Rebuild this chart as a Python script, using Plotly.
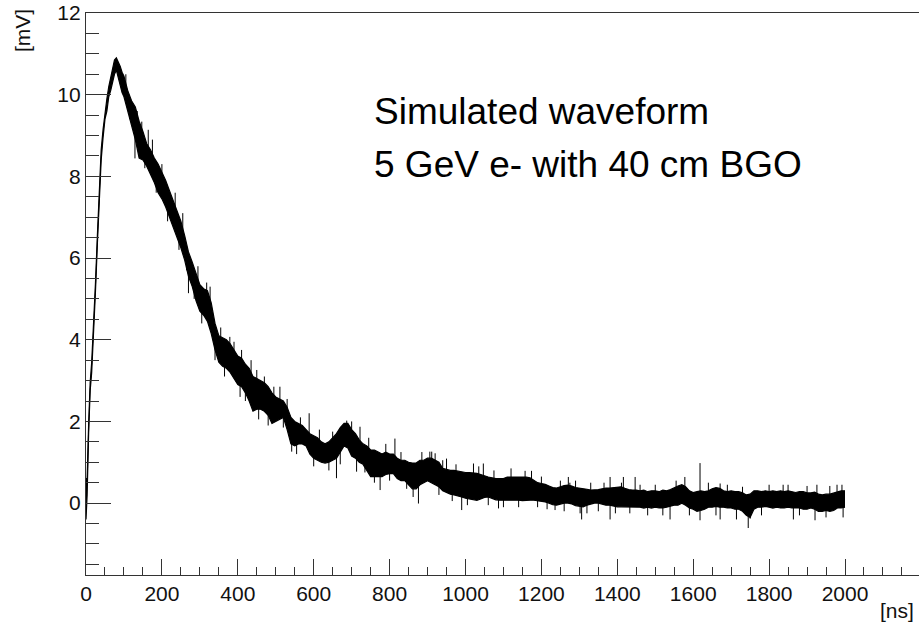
import numpy as np
import plotly.graph_objects as go

# ---- data (time in ns, amplitude in mV) ----
t_env = [0, 3, 7, 11, 15, 20, 25, 30, 35, 40, 45, 50, 55, 60, 65, 70, 75, 80, 85, 90, 95,
         100, 110, 120, 130, 140, 150, 160, 170, 180, 190, 200, 210, 220, 230, 240, 250,
         260, 270, 280, 290, 300, 310, 320, 330, 340, 350, 360, 370, 380, 390, 400, 410,
         420, 430, 440, 450, 460, 470, 480, 490, 500, 510, 520, 530, 540, 550, 560, 570,
         580, 590, 600, 610, 620, 630, 640, 650, 660, 670, 680, 690, 700, 710, 720, 730,
         740, 750, 760, 770, 780, 790, 800, 810, 820, 830, 840, 850, 860, 870, 880, 890,
         900, 910, 920, 930, 940, 950, 960, 970, 980, 990, 1000, 1010, 1020, 1030, 1040,
         1050, 1060, 1070, 1080, 1090, 1100, 1110, 1120, 1130, 1140, 1150, 1160, 1170,
         1180, 1190, 1200, 1210, 1220, 1230, 1240, 1250, 1260, 1270, 1280, 1290, 1300,
         1310, 1320, 1330, 1340, 1350, 1360, 1370, 1380, 1390, 1400, 1410, 1420, 1430,
         1440, 1450, 1460, 1470, 1480, 1490, 1500, 1510, 1520, 1530, 1540, 1550, 1560,
         1570, 1580, 1590, 1600, 1610, 1620, 1630, 1640, 1650, 1660, 1670, 1680, 1690,
         1700, 1710, 1720, 1730, 1740, 1750, 1760, 1770, 1780, 1790, 1800, 1810, 1820,
         1830, 1840, 1850, 1860, 1870, 1880, 1890, 1900, 1910, 1920, 1930, 1940, 1950,
         1960, 1970, 1980, 1990, 2000]

upper_mV = [0.6, 0.6, 1.95, 2.95, 3.45, 4.3, 5.4, 6.55, 7.7, 8.65, 9.15, 9.6, 9.9, 10.2,
            10.4, 10.6, 10.85, 10.9, 10.8, 10.7, 10.55,
            10.45, 10.1, 9.85, 9.7, 9.35, 9.1, 8.8, 8.65, 8.45, 8.3, 8.1, 7.9, 7.65, 7.4,
            7.1, 6.9, 6.55, 6.15, 5.9, 5.6, 5.35, 5.25, 5.2, 4.9, 4.4, 4.1, 4.05, 4.0, 3.9,
            3.75, 3.6, 3.55, 3.4, 3.3, 3.1, 3.05, 3.0, 2.95, 2.85, 2.7, 2.6, 2.55, 2.5,
            2.35, 2.1, 2.0, 1.95, 1.9, 1.8, 1.7, 1.65, 1.6, 1.5, 1.45, 1.5, 1.6, 1.7, 1.85,
            1.95, 1.95, 1.8, 1.7, 1.55, 1.45, 1.4, 1.3, 1.3, 1.25, 1.2, 1.25, 1.2, 1.2, 1.1,
            1.05, 1.05, 1.0, 0.98, 0.98, 1.05, 1.05, 1.1, 1.1, 1.05, 1.0, 0.85, 0.82, 0.8,
            0.8, 0.78, 0.76, 0.75, 0.75, 0.74, 0.73, 0.7, 0.66, 0.64, 0.62, 0.6, 0.6, 0.6,
            0.64, 0.64, 0.64, 0.64, 0.65, 0.64, 0.62, 0.55, 0.5, 0.48, 0.46, 0.42, 0.38,
            0.37, 0.4, 0.43, 0.44, 0.42, 0.38, 0.37, 0.36, 0.34, 0.32, 0.32, 0.33, 0.35,
            0.37, 0.37, 0.38, 0.4, 0.4, 0.36, 0.33, 0.32, 0.32, 0.3, 0.32, 0.28, 0.3, 0.3,
            0.28, 0.32, 0.3, 0.33, 0.38, 0.42, 0.45, 0.4, 0.3, 0.26, 0.28, 0.3, 0.28, 0.3,
            0.35, 0.38, 0.36, 0.3, 0.28, 0.3, 0.28, 0.28, 0.25, 0.2, 0.22, 0.3, 0.3, 0.28,
            0.3, 0.28, 0.3, 0.28, 0.3, 0.28, 0.3, 0.28, 0.26, 0.28, 0.28, 0.25, 0.25, 0.27,
            0.22, 0.2, 0.22, 0.22, 0.25, 0.27, 0.3, 0.3]

lower_mV = [-0.4, 0.2, 1.75, 2.75, 3.2, 4.1, 5.2, 6.35, 7.5, 8.4, 8.95, 9.4, 9.6, 9.95,
            10.1, 10.3, 10.5, 10.6, 10.4, 10.2, 10.05,
            9.95, 9.6, 9.3, 8.9, 8.45, 8.4, 8.25, 8.05, 7.85, 7.6, 7.45, 7.25, 7.0, 6.8,
            6.5, 6.25, 5.95, 5.55, 5.3, 4.95, 4.7, 4.6, 4.45, 4.15, 3.75, 3.45, 3.35, 3.3,
            3.2, 3.05, 2.9, 2.85, 2.7, 2.5, 2.25, 2.3, 2.3, 2.25, 2.15, 1.95, 2.0, 2.05,
            2.1, 1.8, 1.45, 1.4, 1.45, 1.45, 1.4, 1.2, 1.1, 1.05, 1.0, 0.98, 1.0, 1.05, 1.1,
            1.25, 1.4, 1.35, 1.15, 1.1, 1.0, 0.95, 0.8, 0.65, 0.65, 0.65, 0.65, 0.7, 0.72,
            0.72, 0.6, 0.55, 0.55, 0.45, 0.35, 0.35, 0.45, 0.5, 0.55, 0.5, 0.45, 0.4, 0.3,
            0.25, 0.22, 0.2, 0.18, 0.15, 0.12, 0.1, 0.08, 0.07, 0.1, 0.14, 0.15, 0.12, 0.08,
            0.07, 0.07, 0.07, 0.08, 0.07, 0.07, 0.06, 0.07, 0.07, 0.07, 0.06, 0.05, 0.03,
            0.0, -0.04, -0.05, -0.03, 0.0, 0.0, -0.02, -0.06, -0.08, -0.09, -0.05, -0.02,
            0.0, 0.0, -0.03, -0.05, -0.05, -0.07, -0.09, -0.09, -0.09, -0.09, -0.09, -0.09,
            -0.1, -0.12, -0.1, -0.12, -0.1, -0.12, -0.12, -0.1, -0.08, -0.05, -0.05, 0.0,
            -0.05, -0.12, -0.15, -0.2, -0.18, -0.15, -0.1, -0.1, -0.08, -0.1, -0.1, -0.12,
            -0.12, -0.15, -0.15, -0.2, -0.3, -0.35, -0.15, -0.1, -0.1, -0.08, -0.1, -0.12,
            -0.1, -0.12, -0.12, -0.1, -0.12, -0.12, -0.12, -0.15, -0.15, -0.12, -0.15,
            -0.2, -0.2, -0.18, -0.2, -0.18, -0.12, -0.12, -0.1]

# single-bin spikes sticking out of the band
spike_t = [105, 115, 129, 135, 147, 155, 164, 175, 185, 200, 215, 221, 235, 245, 255, 265,
           270, 285, 295, 305, 318, 327, 340, 355, 365, 379, 390, 406, 410, 420, 435, 450,
           455, 470, 480, 495, 511, 520, 530, 542, 555, 565, 588, 600, 615, 640, 650, 660,
           670, 687, 700, 713, 722, 735, 745, 760, 775, 790, 800, 814, 830, 845, 862, 876,
           885, 906, 911, 920, 930, 940, 950, 965, 975, 990, 1005, 1021, 1035, 1047, 1060,
           1075, 1087, 1100, 1120, 1140, 1157, 1174, 1190, 1200, 1215, 1236, 1250, 1260,
           1271, 1275, 1290, 1302, 1306, 1320, 1330, 1350, 1365, 1381, 1381, 1395, 1411,
           1416, 1433, 1447, 1460, 1480, 1500, 1520, 1539, 1555, 1578, 1590, 1618, 1618,
           1640, 1660, 1671, 1671, 1690, 1714, 1730, 1745, 1750, 1780, 1800, 1837, 1850,
           1864, 1880, 1900, 1921, 1926, 1950, 1960, 1979, 1992, 1995]
spike_mV = [10.5, 9.4, 8.44, 9.6, 9.34, 8.2, 9.14, 8.9, 7.6, 8.3, 6.9, 7.01, 7.6, 6.2,
            7.1, 5.7, 5.14, 5.0, 5.8, 4.4, 5.4, 5.3, 3.5, 4.3, 3.1, 4.07, 3.95, 2.6, 3.75,
            2.5, 3.5, 3.26, 2.05, 3.1, 1.9, 2.85, 2.85, 1.85, 2.55, 1.26, 1.2, 2.1, 2.2,
            0.9, 1.8, 0.8, 1.75, 0.61, 0.95, 2.02, 2.0, 0.77, 1.87, 0.75, 1.6, 0.5, 0.32,
            1.45, 0.55, 1.58, 1.25, 0.35, 0.15, -0.01, 1.25, 1.26, 1.26, 1.22, 0.2, 1.05,
            1.09, 0.05, 0.95, -0.17, -0.05, 0.97, 0.9, 0.97, -0.05, 0.8, -0.13, -0.1, 0.85,
            -0.1, 0.79, 0.79, -0.1, 0.65, -0.15, -0.17, 0.55, -0.2, 0.64, 0.5, 0.55, -0.25,
            -0.4, -0.25, 0.5, -0.2, 0.5, 0.64, -0.4, -0.25, 0.5, 0.64, -0.25, 0.64, 0.45,
            -0.3, 0.45, -0.3, -0.4, 0.55, 0.64, -0.3, 0.98, -0.42, 0.5, -0.3, 0.48, -0.4,
            0.45, -0.4, 0.4, -0.61, -0.38, -0.3, 0.45, 0.45, 0.45, -0.4, -0.3, 0.42, -0.42,
            0.45, -0.35, 0.42, 0.45, 0.45, -0.35]

x_range = [0, 2195]
y_range = [-1.76, 12]

# ---- figure ----
fig = go.Figure()
line_col = "black"

fig.add_trace(go.Scatter(x=t_env, y=lower_mV, mode="lines",
                         line=dict(color=line_col, width=1.2), showlegend=False,
                         hoverinfo="skip"))
fig.add_trace(go.Scatter(x=t_env, y=upper_mV, mode="lines", fill="tonexty",
                         fillcolor=line_col, line=dict(color=line_col, width=1.2),
                         showlegend=False, hoverinfo="skip"))

mid = np.interp(spike_t, t_env, (np.array(upper_mV) + np.array(lower_mV)) / 2)
sx, sy = [], []
for t, m, v in zip(spike_t, mid, spike_mV):
    sx += [t, t, None]
    sy += [m, v, None]
fig.add_trace(go.Scatter(x=sx, y=sy, mode="lines", line=dict(color=line_col, width=1),
                         showlegend=False, hoverinfo="skip"))

axis_col = "#333333"
tick_font = dict(family="Liberation Sans, Arial, sans-serif", size=21, color="#111111")

fig.update_xaxes(range=x_range, showgrid=False, zeroline=False,
                 showline=True, linecolor=axis_col, linewidth=1.3, mirror=True,
                 ticks="inside", ticklen=16, tickwidth=1.2, tickcolor=axis_col,
                 dtick=200, tick0=0, tickfont=tick_font, automargin=False,
                 minor=dict(ticks="inside", ticklen=8, tickwidth=1.2,
                            tickcolor=axis_col, dtick=50, showgrid=False))
fig.update_yaxes(range=y_range, showgrid=False, zeroline=False,
                 showline=True, linecolor=axis_col, linewidth=1.3, mirror=False,
                 ticks="inside", ticklen=25, tickwidth=1.2, tickcolor=axis_col,
                 dtick=2, tick0=0, tickfont=tick_font, automargin=False,
                 minor=dict(ticks="inside", ticklen=13, tickwidth=1.2,
                            tickcolor=axis_col, dtick=0.5, showgrid=False))

text_font = dict(family="Liberation Sans, Arial, sans-serif", size=37, color="black")
fig.add_annotation(x=753, y=9.58, xref="x", yref="y", text="Simulated waveform",
                   showarrow=False, xanchor="left", yanchor="middle", font=text_font)
fig.add_annotation(x=753, y=8.28, xref="x", yref="y", text="5 GeV e- with 40 cm BGO",
                   showarrow=False, xanchor="left", yanchor="middle", font=text_font)

fig.add_annotation(x=0.9964, y=-0.064, xref="paper", yref="paper", text="[ns]",
                   showarrow=False, xanchor="right", yanchor="middle", font=tick_font)
fig.add_annotation(x=-0.0756, y=0.968, xref="paper", yref="paper", text="[mV]",
                   showarrow=False, xanchor="center", yanchor="middle", textangle=-90,
                   font=tick_font)

fig.update_layout(width=919, height=626, autosize=False,
                  margin=dict(l=86, r=0, t=13, b=51, pad=0),
                  paper_bgcolor="white", plot_bgcolor="white")

fig.write_html("out.html", config={"displayModeBar": False},
               post_script="document.body.style.margin='0';"
                           "document.body.style.overflow='hidden';")
